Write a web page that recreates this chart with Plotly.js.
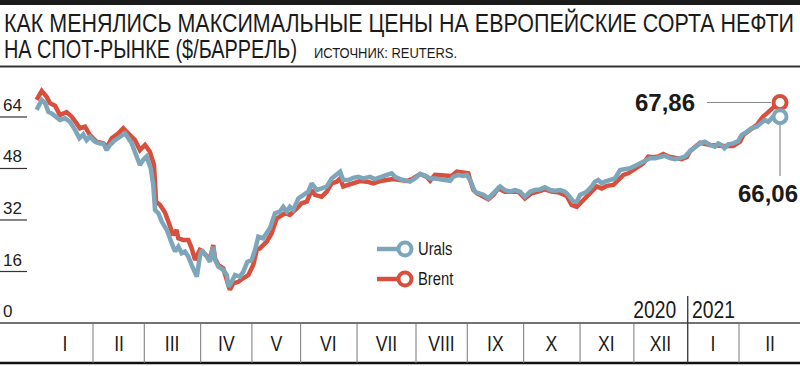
<!DOCTYPE html>
<html>
<head>
<meta charset="utf-8">
<script src="https://cdn.plot.ly/plotly-3.0.1.min.js"></script>
<style>html,body{margin:0;padding:0;background:#fff;}#chart{width:800px;height:366px;}</style>
</head>
<body>
<div id="chart"></div>
<script>
// Data: x = trading-day index from 2 Jan 2020, values in $/barrel
const uralsX = [0, 2.0, 3.3, 4.6, 5.9, 7.2, 9.1, 11.1, 13.0, 15.0,
  16.7, 18.2, 19.5, 20.8, 22.8, 24.7, 26.0, 27.3, 28.6, 30.6,
  32.5, 34.5, 35.8, 37.1, 38.8, 40.3, 41.6, 42.9, 44.5, 45.5,
  46.2, 47.5, 48.8, 50.8, 52.7, 54.0, 55.3, 56.6, 57.9, 59.2,
  60.5, 62.5, 63.7, 64.4, 66.4, 67.6, 68.9, 69.6, 70.9, 72.8,
  74.2, 74.8, 76.1, 77.4, 79.3, 80.6, 82.2, 83.9, 85.2, 86.5,
  88.4, 89.8, 91.0, 93.0, 94.9, 96.2, 97.6, 98.8, 100.1, 102.1,
  104.0, 106.0, 107.3, 109.3, 111.2, 113.2, 115.1, 117.1, 118.4, 119.6,
  121.6, 123.5, 125.5, 127.4, 130.1, 132.0, 134.0, 136.6, 138.5, 139.8,
  141.8, 143.7, 145.7, 147.6, 149.6, 151.5, 153.4, 155.4, 157.4, 159.3,
  161.3, 162.5, 164.5, 166.4, 167.8, 169.1, 170.1, 171.0, 172.3, 174.3,
  176.2, 177.5, 179.5, 180.8, 182.7, 184.7, 186.6, 188.6, 190.5, 192.5,
  194.4, 196.4, 198.3, 200.3, 202.2, 204.2, 206.1, 207.4, 209.4, 210.7,
  212.0, 213.3, 214.6, 216.5, 217.8, 219.1, 220.4, 221.7, 223.7, 225.6,
  227.6, 229.5, 231.5, 233.4, 235.4, 237.3, 239.3, 241.2, 243.2, 245.1,
  247.1, 249.0, 251.0, 252.9, 254.9, 256.8, 258.8, 260.7, 262.7, 264.6,
  265.9, 267.2, 268.3, 269.8, 271.8, 273.7, 275.0, 277.0, 278.9, 280.9,
  282.8, 284.1, 285.4, 287.3, 290.0];
const uralsY = [66.2, 69.3, 68.3, 65.6, 65.1, 64.1, 63.1, 63.6, 62.5, 60.0,
  57.4, 58.6, 56.8, 57.9, 56.3, 55.8, 55.8, 53.7, 55.3, 56.8,
  57.9, 58.9, 57.4, 55.8, 52.2, 49.1, 50.7, 51.7, 48.1, 42.9,
  35.1, 34.1, 31.5, 28.9, 24.8, 22.2, 23.7, 21.7, 22.2, 20.6,
  18.0, 14.4, 20.6, 22.7, 20.6, 19.0, 23.7, 19.6, 17.5, 16.5,
  14.9, 11.3, 12.8, 14.9, 14.4, 15.9, 19.0, 19.6, 22.7, 26.8,
  26.3, 27.9, 29.4, 34.1, 34.6, 36.1, 34.6, 36.1, 35.1, 38.7,
  39.8, 40.8, 43.4, 41.3, 41.8, 42.4, 44.9, 46.0, 47.0, 44.4,
  44.4, 45.1, 45.4, 44.9, 45.4, 44.7, 45.4, 46.0, 46.5, 45.4,
  44.7, 44.4, 43.9, 44.9, 46.3, 45.8, 44.9, 44.9, 44.6, 44.4,
  44.2, 45.4, 46.0, 45.7, 46.0, 44.4, 42.4, 40.8, 40.3, 39.8,
  38.7, 39.8, 41.8, 42.4, 41.3, 40.8, 41.3, 40.8, 39.2, 40.8,
  41.3, 41.5, 42.2, 41.3, 41.1, 41.3, 40.8, 39.8, 37.7, 37.7,
  39.8, 40.5, 40.8, 42.4, 43.9, 44.4, 43.4, 43.9, 44.4, 44.9,
  47.5, 47.7, 48.1, 48.8, 49.6, 50.1, 51.2, 51.2, 51.5, 51.9,
  51.2, 50.9, 51.2, 51.7, 53.4, 54.8, 55.8, 56.3, 55.3, 54.8,
  55.8, 55.3, 54.3, 55.5, 55.8, 56.5, 58.4, 59.4, 60.5, 61.0,
  62.0, 63.1, 62.5, 64.1, 64.1];

const brentX = [0, 2.0, 3.9, 5.2, 7.2, 9.1, 11.7, 13.7, 15.6, 16.9,
  18.9, 20.8, 23.4, 26.0, 27.6, 29.3, 31.9, 33.8, 36.4, 38.4,
  40.3, 42.3, 44.2, 45.8, 46.6, 48.1, 50.1, 51.4, 53.3, 54.6,
  55.3, 57.2, 59.2, 60.5, 61.8, 63.7, 64.4, 66.4, 67.6, 68.9,
  69.6, 70.9, 72.8, 74.8, 75.4, 76.7, 78.7, 80.6, 82.6, 84.5,
  85.9, 87.1, 89.8, 91.7, 93.7, 96.9, 98.8, 101.5, 103.4, 105.4,
  107.3, 108.6, 111.2, 113.2, 115.1, 117.1, 118.4, 119.6, 121.6, 124.2,
  126.2, 128.8, 131.3, 134.0, 136.6, 139.1, 141.8, 144.4, 146.9, 149.6,
  152.2, 153.5, 155.4, 159.3, 161.9, 163.9, 166.4, 168.4, 169.3, 170.4,
  171.7, 173.6, 176.2, 178.2, 180.1, 182.7, 185.3, 187.9, 190.5, 193.1,
  195.7, 198.3, 200.9, 203.9, 206.8, 208.7, 210.7, 212.6, 214.6, 216.5,
  218.5, 220.4, 222.4, 225.0, 226.9, 228.9, 230.8, 232.8, 234.7, 236.7,
  238.6, 240.6, 242.5, 244.5, 246.4, 249.0, 251.6, 253.6, 254.9, 258.8,
  262.7, 267.7, 271.8, 274.4, 275.7, 278.3, 280.9, 283.4, 285.4, 287.3,
  289.3, 290.0];
const brentY = [69.3, 72.1, 70.3, 68.3, 67.5, 64.6, 65.5, 64.1, 62.0, 60.5,
  61.0, 58.4, 56.3, 55.8, 54.8, 57.4, 58.9, 60.5, 58.4, 56.8,
  53.7, 55.3, 53.2, 49.1, 37.7, 36.7, 34.3, 31.5, 27.3, 28.9,
  26.3, 25.8, 25.8, 23.2, 19.6, 22.7, 22.4, 20.8, 19.6, 24.2,
  20.0, 18.0, 17.0, 11.8, 10.3, 12.3, 12.8, 13.9, 14.9, 18.0,
  22.7, 23.2, 25.3, 27.9, 32.5, 34.1, 33.6, 35.6, 37.2, 37.7,
  41.3, 39.8, 39.2, 40.8, 43.4, 43.9, 44.9, 42.4, 42.9, 43.4,
  44.1, 43.9, 43.4, 44.1, 44.4, 44.7, 44.4, 44.1, 44.9, 46.3,
  45.4, 44.2, 46.0, 46.0, 45.7, 47.0, 46.7, 46.5, 43.9, 41.3,
  40.3, 39.5, 38.4, 39.8, 41.8, 40.8, 40.8, 40.8, 38.7, 40.3,
  40.8, 41.5, 40.8, 40.5, 39.5, 36.7, 36.1, 37.7, 39.2, 40.8,
  42.4, 41.8, 42.6, 42.9, 44.4, 46.0, 46.5, 47.5, 48.6, 49.6,
  51.7, 51.5, 51.7, 52.5, 51.7, 51.2, 50.9, 51.5, 53.4, 56.0,
  55.3, 55.0, 55.0, 56.3, 58.4, 60.0, 61.5, 64.1, 65.6, 66.6,
  68.3, 68.5];

const yTicks = [0, 16, 32, 48, 64];
const monthLabels = ['I','II','III','IV','V','VI','VII','VIII','IX','X','XI','XII','I','II'];
const monthTradingDays = [22, 20, 22, 20, 19, 22, 23, 20, 22, 22, 21, 21, 20]; // last month open-ended
const yearLabels = ['2020', '2021'];
const lastLabels = {brent: '67,86', urals: '66,06'};
const seriesNames = ['Urals', 'Brent'];

// ---- geometry ----
const W = 800, H = 366;
const X0 = 36.6, XS = 2.5635, Y0 = 323, YS = 3.219;
const xRange = [(0 - X0) / XS, (W - X0) / XS];
const yRange = [(Y0 - H) / YS, Y0 / YS];
const px = p => p / W;
const py = p => 1 - p / H;
const yv = p => (Y0 - p) / YS;

const BLUE = '#7ea6ba', RED = '#d8503d', INK = '#1b1b1b';
const SANS = '"Liberation Sans", Arial, sans-serif';

const traces = [
  {x: brentX, y: brentY, type: 'scatter', mode: 'lines', line: {color: RED, width: 4.5}, hoverinfo: 'skip'},
  {x: uralsX, y: uralsY, type: 'scatter', mode: 'lines', line: {color: BLUE, width: 4.5}, hoverinfo: 'skip'},
  {x: [brentX[brentX.length-1]], y: [brentY[brentY.length-1]], type: 'scatter', mode: 'markers',
   marker: {size: 13, color: '#fff', line: {color: RED, width: 4}}, hoverinfo: 'skip'},
  {x: [uralsX[uralsX.length-1]], y: [uralsY[uralsY.length-1]], type: 'scatter', mode: 'markers',
   marker: {size: 13, color: '#fff', line: {color: BLUE, width: 4}}, hoverinfo: 'skip'}
];

const shapes = [];
const annotations = [];
const condense = []; // per annotation: null, {w: targetWidth} or {f: factor}
function addAnn(a, c) { annotations.push(a); condense.push(c || null); }

// top bar and title rule
shapes.push({type: 'rect', xref: 'paper', yref: 'paper', x0: 0, x1: 1, y0: py(5), y1: 1, fillcolor: INK, line: {width: 0}});
shapes.push({type: 'line', xref: 'paper', yref: 'paper', x0: 0, x1: 1, y0: py(66.5), y1: py(66.5), line: {color: '#333', width: 2}});

addAnn({text: 'КАК МЕНЯЛИСЬ МАКСИМАЛЬНЫЕ ЦЕНЫ НА ЕВРОПЕЙСКИЕ СОРТА НЕФТИ', xref: 'paper', yref: 'paper', align: 'left',
  x: px(2), y: py(23), xanchor: 'left', yanchor: 'middle', showarrow: false, font: {family: SANS, size: 26, color: INK}}, {w: 790});
addAnn({text: 'НА СПОТ-РЫНКЕ ($/БАРРЕЛЬ)', xref: 'paper', yref: 'paper', align: 'left',
  x: px(2), y: py(49), xanchor: 'left', yanchor: 'middle', showarrow: false, font: {family: SANS, size: 26, color: INK}}, {w: 293});
addAnn({text: 'ИСТОЧНИК: REUTERS.', xref: 'paper', yref: 'paper', align: 'left',
  x: px(312), y: py(52.5), xanchor: 'left', yanchor: 'middle', showarrow: false, font: {family: SANS, size: 14, color: INK}}, {w: 143});

// y ticks
yTicks.forEach(t => {
  if (t > 0) shapes.push({type: 'line', xref: 'paper', yref: 'y', x0: 0, x1: px(27), y0: t, y1: t, line: {color: '#333', width: 1.2}});
  addAnn({text: String(t), xref: 'paper', yref: 'y', x: px(1), y: t, xanchor: 'left', yanchor: 'bottom', align: 'left',
    showarrow: false, font: {family: SANS, size: 17, color: '#222'}});
});

// month band
const bandBottom = yv(363);
shapes.push({type: 'line', xref: 'paper', yref: 'y', x0: 0, x1: 1, y0: 0, y1: 0, line: {color: '#444', width: 1.5}});
shapes.push({type: 'line', xref: 'paper', yref: 'y', x0: 0, x1: 1, y0: bandBottom, y1: bandBottom, line: {color: '#111', width: 2.5}});
let edge = 0;
const edges = [0];
monthTradingDays.forEach(d => { edge += d; edges.push(edge); });
edges.push(xRange[1]);
edges.slice(1, -1).forEach((e, i) => {
  const isYear = (i === 11);
  shapes.push({type: 'line', xref: 'x', yref: 'y', x0: e, x1: e, y0: bandBottom, y1: isYear ? yv(296) : 0,
    line: {color: isYear ? '#333' : '#777', width: isYear ? 1.3 : 1}});
});
monthLabels.forEach((m, i) => {
  addAnn({text: m, xref: 'x', yref: 'y', x: (edges[i] + edges[i+1]) / 2, y: yv(343), xanchor: 'center', yanchor: 'middle',
    showarrow: false, font: {family: SANS, size: 22, color: INK}}, {f: 0.8});
});
addAnn({text: yearLabels[0], xref: 'x', yref: 'y', x: edges[12], y: yv(310), xanchor: 'right', yanchor: 'middle', xshift: -10, align: 'right',
  showarrow: false, font: {family: SANS, size: 23, color: INK}}, {w: 43});
addAnn({text: yearLabels[1], xref: 'x', yref: 'y', x: edges[12], y: yv(310), xanchor: 'left', yanchor: 'middle', xshift: 2, align: 'left',
  showarrow: false, font: {family: SANS, size: 23, color: INK}}, {w: 43});

// legend
[[seriesNames[0], BLUE, 249], [seriesNames[1], RED, 279]].forEach(([name, col, yy]) => {
  shapes.push({type: 'line', xref: 'paper', yref: 'paper', x0: px(377), x1: px(400), y0: py(yy), y1: py(yy), line: {color: col, width: 4.5}});
  shapes.push({type: 'circle', xref: 'paper', yref: 'paper', xsizemode: 'pixel', ysizemode: 'pixel',
    xanchor: px(405), yanchor: py(yy), x0: -6.5, x1: 6.5, y0: -6.5, y1: 6.5, fillcolor: '#fff', line: {color: col, width: 4}});
  addAnn({text: name, xref: 'paper', yref: 'paper', x: px(416), y: py(yy), xanchor: 'left', yanchor: 'middle', align: 'left',
    showarrow: false, font: {family: SANS, size: 18, color: INK}}, {f: 0.82});
});

// end labels and leaders
const lx = uralsX[uralsX.length-1];
shapes.push({type: 'line', xref: 'paper', yref: 'y', x0: px(707), x1: px(771), y0: brentY[brentY.length-1], y1: brentY[brentY.length-1], line: {color: '#888', width: 1.2}});
shapes.push({type: 'line', xref: 'x', yref: 'paper', x0: lx, x1: lx, y0: py(125), y1: py(176), line: {color: '#888', width: 1.2}});
addAnn({text: '<b>' + lastLabels.brent + '</b>', xref: 'paper', yref: 'paper', x: px(697), y: py(103), xanchor: 'right', yanchor: 'middle', align: 'right',
  showarrow: false, font: {family: SANS, size: 24, color: INK}});
addAnn({text: '<b>' + lastLabels.urals + '</b>', xref: 'paper', yref: 'paper', x: px(800), y: py(193), xanchor: 'right', yanchor: 'middle', align: 'right',
  showarrow: false, font: {family: SANS, size: 24, color: INK}});

const layout = {
  width: W, height: H, margin: {l: 0, r: 0, t: 0, b: 0}, paper_bgcolor: '#fff', plot_bgcolor: '#fff',
  showlegend: false,
  xaxis: {range: xRange, visible: false, fixedrange: true},
  yaxis: {range: yRange, visible: false, fixedrange: true},
  shapes: shapes, annotations: annotations
};
Plotly.newPlot('chart', traces, layout, {staticPlot: true, displayModeBar: false}).then(gd => {
  // condensed lettering (no narrow font installed): squeeze glyphs horizontally
  gd.querySelectorAll('g.annotation').forEach(g => {
    const idx = +g.getAttribute('data-index');
    const c = condense[idx];
    if (!c) return;
    const t = g.querySelector('text.annotation-text');
    if (!t) return;
    const w = t.getComputedTextLength();
    const target = c.w ? c.w : w * c.f;
    t.setAttribute('textLength', target.toFixed(1));
    t.setAttribute('lengthAdjust', 'spacingAndGlyphs');
  });
});
</script>
</body>
</html>
